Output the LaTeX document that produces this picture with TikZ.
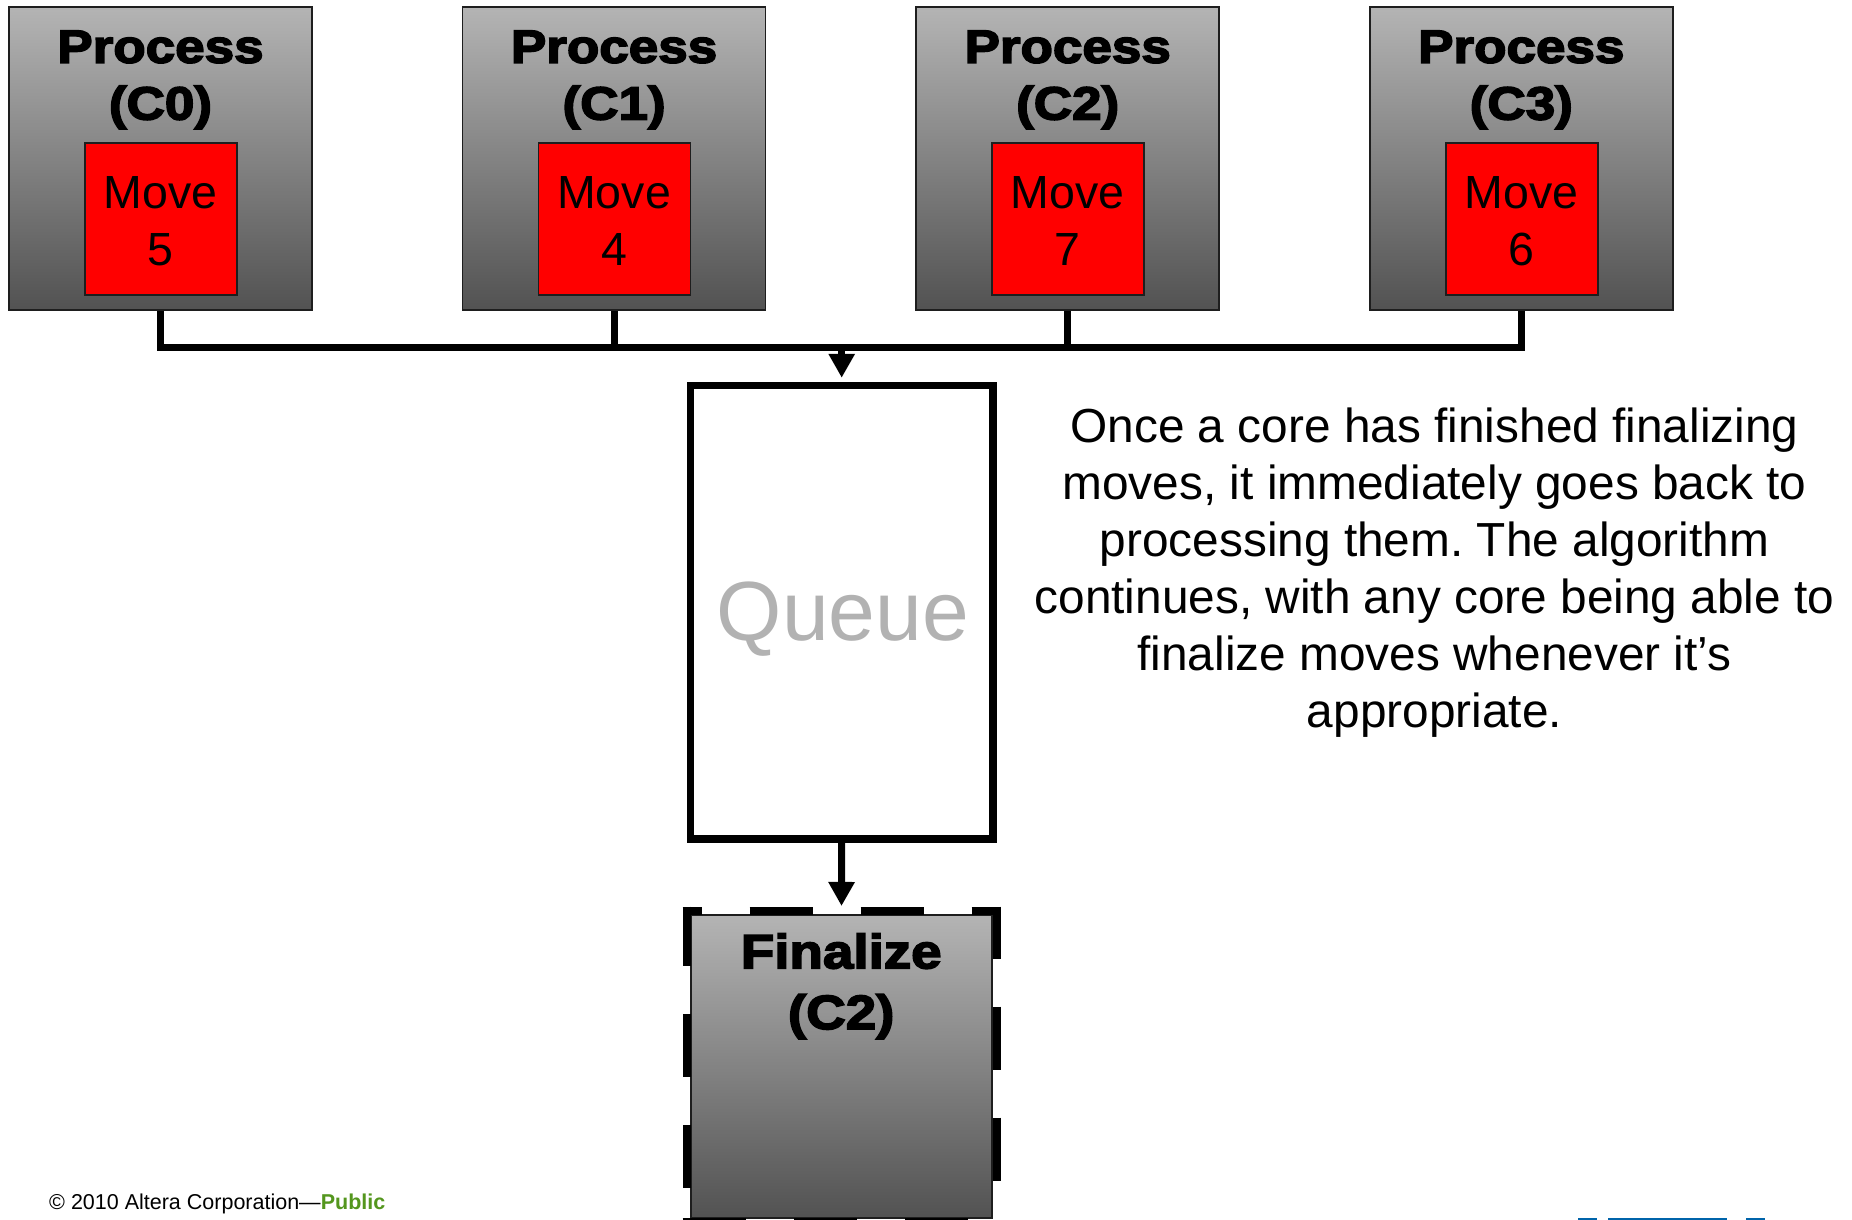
\documentclass[tikz,border=0pt]{standalone}
\usepackage{fontspec}
\setmainfont{Liberation Sans}
\newfontfamily\heavy{Liberation Sans Bold}[FakeStretch=1.14,FakeBold=3.5]
\usetikzlibrary{arrows.meta}
\definecolor{boxtop}{RGB}{180,180,180}
\definecolor{boxbot}{RGB}{82,82,82}
\definecolor{edgecol}{RGB}{30,30,30}
\definecolor{movered}{RGB}{255,0,0}
\definecolor{qgray}{RGB}{178,178,178}
\definecolor{pubgreen}{RGB}{84,150,30}
\definecolor{logoblue}{RGB}{0,100,170}
\frenchspacing
\begin{document}
\begin{tikzpicture}[x=1pt,y=-1pt,
  corebox/.style={rectangle, draw=edgecol, line width=1.5pt, top color=boxtop, bottom color=boxbot, minimum width=303pt, minimum height=303pt, inner sep=0pt},
  movebox/.style={rectangle, draw=edgecol, line width=1.5pt, fill=movered, minimum size=152pt, inner sep=0pt},
  title/.style={anchor=base, inner sep=0pt, font=\heavy\fontsize{46.5}{50}\selectfont},
  movetxt/.style={anchor=base, inner sep=0pt, font=\fontsize{46.5}{50}\selectfont},
  queuebox/.style={rectangle, draw=black, line width=7.5pt, fill=white, minimum width=302.5pt, minimum height=453.5pt, inner sep=0pt},
  conn/.style={line width=7pt, draw=black},
  flow/.style={conn, -{Triangle[width=25pt,length=24pt]}},
  outl/.style={line width=8pt, draw=black, dash pattern=on 63pt off 48pt}
]
\useasboundingbox (0,0) rectangle (1852,1219);
\clip (0,0) rectangle (1852,1219);
\fill[white] (0,0) rectangle (1852,1219);

\foreach \i/\m in {0/5,1/4,2/7,3/6}{
  \pgfmathsetmacro\cx{160.5+453.6*\i}
  \node[corebox] (p\i) at (\cx,158.5) {};
  \node[movebox] (m\i) at (\cx+0.5,219) {};
  \node[title] (pa\i) at (\cx,62.7) {Process};
  \node[title] (pb\i) at (\cx,119.5) {(C\i)};
  \node[movetxt] (ma\i) at (\cx,208.3) {Move};
  \node[movetxt] (mb\i) at (\cx,265) {\m};
}

\coordinate (bus) at (0,347);
\node[queuebox] (q) at (841.7,612.25) {};
\node[anchor=base, inner sep=0pt, text=qgray, font=\fontsize{84}{90}\selectfont] (ql) at (843,640) {Queue};

\draw[conn] (p0.south) |- (p3.south |- bus) -- (p3.south);
\draw[conn] (p1.south) -- (p1.south |- bus);
\draw[conn] (p2.south) -- (p2.south |- bus);
\draw[flow] (q.north |- bus) -- ([yshift=4pt]q.north);

\node[corebox, minimum width=301pt] (f) at (841.5,1066.5) {};
\draw[outl, dash phase=44pt] (682.7,911) -- (1000.7,911);
\draw[outl, dash phase=4pt] (686.7,906.7) -- (686.7,1226);
\draw[outl, dash phase=11pt] (996.7,906.7) -- (996.7,1226);
\draw[outl] (682.7,1222) -- (1000.7,1222);
\node[title, font=\heavy\fontsize{48}{50}\selectfont] (fa) at (841.2,968.3) {Finalize};
\node[title, font=\heavy\fontsize{48}{50}\selectfont] (fb) at (841.2,1029) {(C2)};
\draw[flow] (q.south) -- ([yshift=8.3pt]f.north);

\node[anchor=north, align=center, inner sep=0pt, font=\fontsize{47.8}{57}\selectfont] (note) at (1434.5,407.5)
  {Once a core has finished finalizing\\ moves, it immediately goes back to\\ processing them. The algorithm\\ continues, with any core being able to\\ finalize moves whenever it’s\\ appropriate.};

\node[anchor=base west, inner sep=0pt, font=\fontsize{21.5}{26}\selectfont] (copy) at (49,1209)
  {© 2010 Altera Corporation—{\bfseries\color{pubgreen}Public}};

\fill[logoblue] (1578,1217.6) rectangle (1597,1219.5);
\fill[logoblue] (1608,1217.6) rectangle (1727,1219.5);
\fill[logoblue] (1746,1217.6) rectangle (1765,1219.5);
\end{tikzpicture}
\end{document}
